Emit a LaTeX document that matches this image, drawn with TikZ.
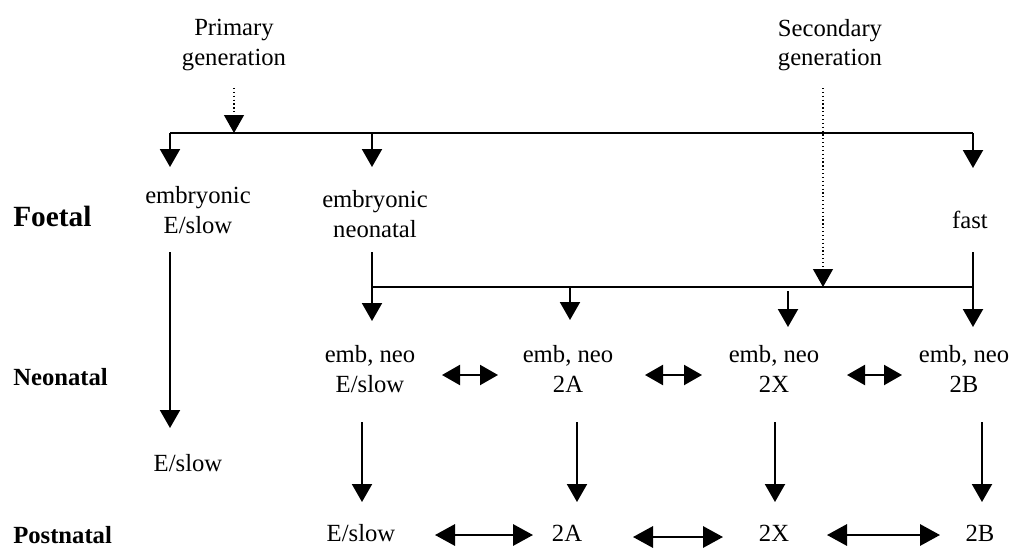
\documentclass[tikz,border=0pt]{standalone}
\usepackage{fontspec}
\setmainfont{Liberation Serif}
\usetikzlibrary{arrows.meta}
\begin{document}
\begin{tikzpicture}[x=0.75pt,y=-0.75pt,
  lbl/.style={font=\fontsize{18.5}{22}\selectfont, align=center, inner sep=0pt},
  stage/.style={font=\fontsize{18.5}{22}\selectfont\bfseries, anchor=west, inner sep=0pt},
  solidarrow/.style={line width=1.6pt, -{Triangle[width=15pt,length=13.5pt]}},
  dotarrow/.style={line width=0.9pt, dotted, -{Triangle[width=15pt,length=13.5pt]}},
  bidir/.style={line width=1.6pt, {Triangle[width=15pt,length=13.5pt]}-{Triangle[width=15pt,length=13.5pt]}},
  bidirlong/.style={line width=1.6pt, {Triangle[width=16pt,length=15pt]}-{Triangle[width=16pt,length=15pt]}},
  bar/.style={line width=1.6pt}]
\useasboundingbox (0,0) rectangle (1015,547);
\clip (0,0) rectangle (1015,547);

% stage labels
\node[stage, font=\fontsize{22}{26}\selectfont\bfseries] (foetal) at (13,216) {Foetal};
\node[stage] (neonatal) at (13,377) {Neonatal};
\node[stage] (postnatal) at (13,535) {Postnatal};

% generation labels
\node[lbl] (prim) at (234,45) {Primary\\generation};
\node[lbl] (sec) at (830,45) {Secondary\\generation};

% foetal row
\node[lbl] (embslow) at (198,210) {embryonic\\E/slow};
\node[lbl] (embneo) at (375,214) {embryonic\\neonatal};
\node[lbl] (fast) at (970,220) {fast};

% neonatal row
\node[lbl] (n1) at (370,369) {emb, neo\\E/slow};
\node[lbl] (n2) at (568,369) {emb, neo\\2A};
\node[lbl] (n3) at (774,369) {emb, neo\\2X};
\node[lbl] (n4) at (964,369) {emb, neo\\2B};
\node[lbl] (eslow) at (188,463) {E/slow};

% postnatal row
\node[lbl] (p1) at (361,533) {E/slow};
\node[lbl] (p2) at (567,533) {2A};
\node[lbl] (p3) at (774,533) {2X};
\node[lbl] (p4) at (980,533) {2B};

% coordinates
\coordinate (primtop) at (234,88);
\coordinate (primhit) at (234,133);
\coordinate (ta) at (170,133);
\coordinate (tb) at (372,133);
\coordinate (tc) at (973,133);
\coordinate (ta2) at (170,167);
\coordinate (tb2) at (372,167);
\coordinate (tc2) at (973,168);
\coordinate (sectop) at (823,88);
\coordinate (sechit) at (823,287);
\coordinate (la) at (170,252);
\coordinate (lb) at (170,428);
\coordinate (na) at (372,252);
\coordinate (nb) at (372,287);
\coordinate (nc) at (973,287);
\coordinate (fa) at (973,252);
\coordinate (b1) at (372,321);
\coordinate (b2a) at (570,287);
\coordinate (b2) at (570,320);
\coordinate (b3a) at (788,291);
\coordinate (b3) at (788,327);
\coordinate (b4) at (973,327);

% top bar and branches
\draw[bar] (ta) -- (tc);
\draw[dotarrow] (primtop) -- (primhit);
\draw[solidarrow] (ta) -- (ta2);
\draw[solidarrow] (tb) -- (tb2);
\draw[solidarrow] (tc) -- (tc2);

% embryonic slow line
\draw[solidarrow] (la) -- (lb);

% secondary branch
\draw[bar] (na) -- (nb) -- (nc);
\draw[dotarrow] (sectop) -- (sechit);
\draw[solidarrow] (nb) -- (b1);
\draw[solidarrow] (b2a) -- (b2);
\draw[solidarrow] (b3a) -- (b3);
\draw[solidarrow] (fa) -- (b4);

% neonatal bidirectional arrows
\coordinate (h1a) at (442,375); \coordinate (h1b) at (498,375);
\coordinate (h2a) at (645,375); \coordinate (h2b) at (702,375);
\coordinate (h3a) at (847,375); \coordinate (h3b) at (902,375);
\draw[bidir] (h1a) -- (h1b);
\draw[bidir] (h2a) -- (h2b);
\draw[bidir] (h3a) -- (h3b);

% neonatal -> postnatal
\coordinate (v1a) at (362,422); \coordinate (v1b) at (362,502);
\coordinate (v2a) at (577,422); \coordinate (v2b) at (577,502);
\coordinate (v3a) at (775,422); \coordinate (v3b) at (775,502);
\coordinate (v4a) at (982,422); \coordinate (v4b) at (982,502);
\draw[solidarrow] (v1a) -- (v1b);
\draw[solidarrow] (v2a) -- (v2b);
\draw[solidarrow] (v3a) -- (v3b);
\draw[solidarrow] (v4a) -- (v4b);

% postnatal bidirectional arrows
\coordinate (q1a) at (435,535); \coordinate (q1b) at (533,535);
\coordinate (q2a) at (633,537); \coordinate (q2b) at (723,537);
\coordinate (q3a) at (827,535); \coordinate (q3b) at (940,535);
\draw[bidirlong] (q1a) -- (q1b);
\draw[bidirlong] (q2a) -- (q2b);
\draw[bidirlong] (q3a) -- (q3b);
\end{tikzpicture}
\end{document}
